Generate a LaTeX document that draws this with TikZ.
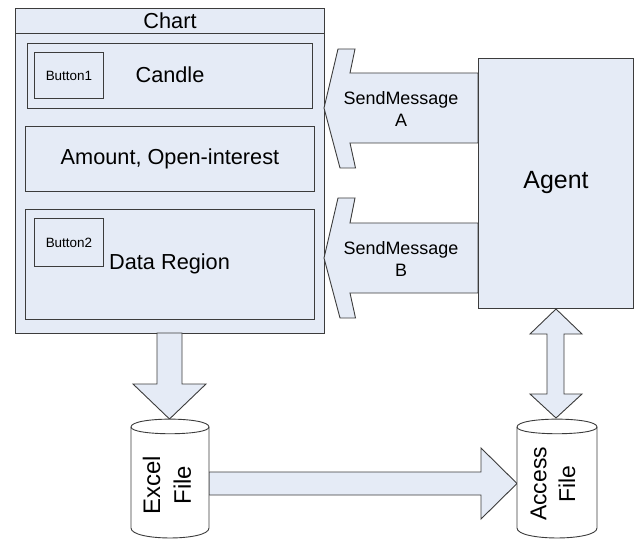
\documentclass[tikz,border=0pt]{standalone}
\usepackage{fontspec}
\setmainfont{Liberation Sans}
\definecolor{fillb}{RGB}{229,235,246}
\definecolor{edge}{RGB}{60,60,60}
\begin{document}
\begin{tikzpicture}[x=1bp,y=-1bp,
  box/.style={draw=edge, fill=fillb, line width=0.9bp, inner sep=0pt, anchor=north west},
  plainbox/.style={draw=edge, line width=0.9bp, inner sep=0pt, anchor=north west},
  blockarrow/.style={draw=edge, fill=fillb, line width=0.9bp, line join=miter},
  cyl/.style={draw=edge, fill=white, line width=0.9bp},
  lbl/.style={inner sep=0pt, text=black},
  big/.style={font=\fontsize{21.8}{26}\selectfont},
  small/.style={font=\fontsize{13.5}{16}\selectfont},
  mid/.style={font=\fontsize{18}{22}\selectfont, align=center}]
\useasboundingbox (0,0) rectangle (640,540);

% Chart container
\node[box, minimum width=309bp, minimum height=325bp] (chart) at (15,8) {};
\draw[draw=edge, line width=0.9bp] (chart.north west |- 0,33) -- (chart.north east |- 0,33);
\node[lbl, big] (charttitle) at (170,20.5) {Chart};

% Candle region
\node[box, minimum width=285bp, minimum height=65bp] (candle) at (27,43) {};
\node[plainbox, minimum width=69bp, minimum height=46bp] (btn1) at (34,52) {};
\node[lbl, small] (btn1t) at (btn1.center) {Button1};
\node[lbl, big] (candlet) at (170,75) {Candle};

% Amount region
\node[box, minimum width=289bp, minimum height=65bp] (amount) at (25,126) {};
\node[lbl, big] (amountt) at (amount.center) {Amount, Open-interest};

% Data region
\node[box, minimum width=289bp, minimum height=110bp] (data) at (25,209) {};
\node[plainbox, minimum width=69bp, minimum height=48bp] (btn2) at (34,218) {};
\node[lbl, small] (btn2t) at (btn2.center) {Button2};
\node[lbl, big, anchor=west] (datat) at (109,264) {Data Region};

% SendMessage arrows
\draw[blockarrow] (324,108) -- (338,49) -- (355,49) -- (350,73) -- (478,73)
  -- (478,143) -- (350,143) -- (355.5,168) -- (340,168) -- cycle;
\draw[blockarrow] (324,258) -- (338,198) -- (355,198) -- (350,223) -- (478,223)
  -- (478,293) -- (350,293) -- (355.5,318) -- (340,318) -- cycle;
\node[lbl, mid] (sma) at (401,109) {SendMessage\\A};
\node[lbl, mid] (smb) at (401,259) {SendMessage\\B};

% Agent
\node[box, minimum width=155bp, minimum height=250bp] (agent) at (478,58) {};
\node[lbl, font=\fontsize{25}{30}\selectfont] (agentt) at (556,183) {Agent};

% Down arrow chart -> excel
\draw[blockarrow] (157,333) -- (182,333) -- (182,384) -- (206,384) -- (169.5,419)
  -- (133,384) -- (157,384) -- cycle;

% Double arrow agent <-> access
\draw[blockarrow] (556,309) -- (582,334) -- (564,334) -- (564,394) -- (582,394)
  -- (556,418) -- (530,394) -- (547,394) -- (547,334) -- (530,334) -- cycle;

% Right arrow excel -> access
\draw[blockarrow] (209,472) -- (481,472) -- (481,448) -- (517,483.5) -- (481,519)
  -- (481,495) -- (209,495) -- cycle;

% Excel cylinder
\draw[cyl] (131,427) -- (131,528) .. controls (131,541.3) and (209,541.3) .. (209,528)
  -- (209,427) .. controls (209,416.5) and (131,416.5) .. (131,427) -- cycle;
\draw[draw=edge, line width=0.9bp] (131,427) .. controls (131,436) and (209,436) .. (209,427);
\node[lbl, align=center, rotate=90, font=\fontsize{24}{31}\selectfont] (excel) at (167,485) {Excel\\File};

% Access cylinder
\draw[cyl] (517,427) -- (517,528) .. controls (517,541.3) and (597,541.3) .. (597,528)
  -- (597,427) .. controls (597,416.5) and (517,416.5) .. (517,427) -- cycle;
\draw[draw=edge, line width=0.9bp] (517,427) .. controls (517,436) and (597,436) .. (597,427);
\node[lbl, align=center, rotate=90, font=\fontsize{23}{29}\selectfont] (access) at (553,484) {Access\\File};
\end{tikzpicture}
\end{document}
